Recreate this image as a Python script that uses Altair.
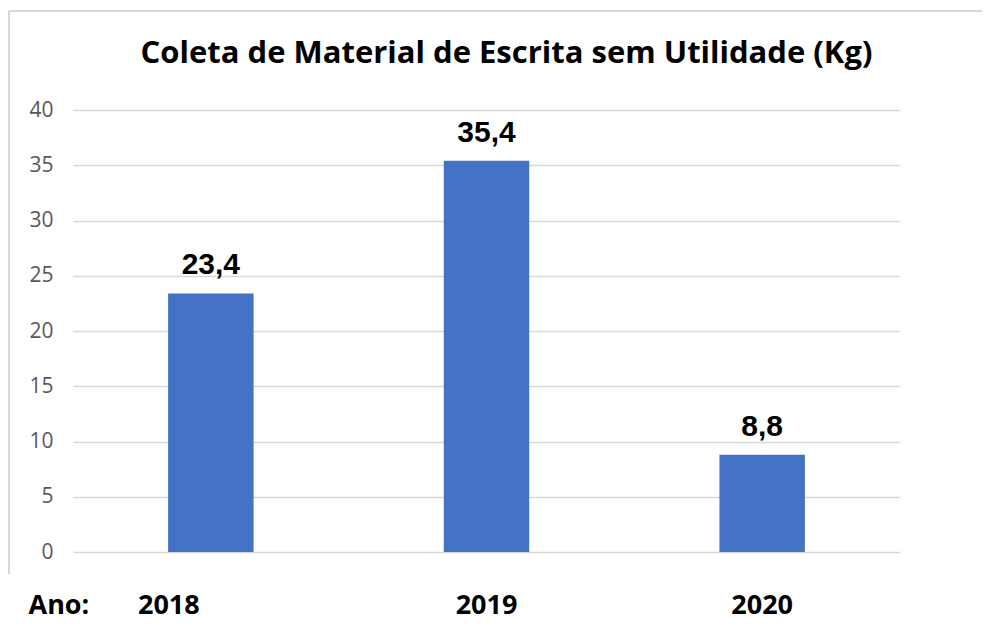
import altair as alt
import pandas as pd

anos = ["2018", "2019", "2020"]
valores = [23.4, 35.4, 8.8]
titulo = "Coleta de Material de Escrita sem Utilidade (Kg)"

df = pd.DataFrame({"ano": anos, "valor": valores})

W, H = 827, 442

base = alt.Chart(df)

x_enc = alt.X(
    "ano:N",
    sort=anos,
    scale=alt.Scale(paddingInner=0.69, paddingOuter=0.345),
    axis=alt.Axis(
        title="Ano:",
        titleFont="Open Sans",
        titleFontSize=27,
        titleFontWeight="bold",
        titleColor="#000000",
        titleAngle=0,
        titleAlign="left",
        titleBaseline="alphabetic",
        titleX=-45,
        titleY=61,
        labelFont="Open Sans",
        labelFontSize=27,
        labelFontWeight="bold",
        labelColor="#000000",
        labelAngle=0,
        labelBaseline="alphabetic",
        labelPadding=61,
        labelOffset=alt.ExprRef("datum.value == '2018' ? -42 : 0"),
        ticks=False,
        domain=False,
        grid=False,
    ),
)

bars = base.mark_bar(color="#4472C4").encode(
    x=x_enc,
    y=alt.Y(
        "valor:Q",
        scale=alt.Scale(domain=[0, 40], nice=False),
        axis=alt.Axis(
            title=None,
            values=[0, 5, 10, 15, 20, 25, 30, 35, 40],
            labelFont="Open Sans",
            labelFontSize=21,
            labelColor="#595959",
            labelPadding=20,
            ticks=False,
            domain=False,
            grid=True,
            gridColor="#d9d9d9",
            gridWidth=1.5,
        ),
    ),
)

labels = base.transform_calculate(
    rotulo="replace(format(datum.valor, '.1f'), '.', ',')"
).mark_text(
    font="Liberation Sans",
    fontSize=30,
    fontWeight="bold",
    color="#000000",
    baseline="alphabetic",
    dy=-19,
).encode(
    x=alt.X("ano:N", sort=anos),
    y=alt.Y("valor:Q"),
    text="rotulo:N",
)

border_top = base.mark_rule(color="#d9d9d9", strokeWidth=2).encode(
    x=alt.value(-64), x2=alt.value(W + 82), y=alt.value(-99)
)
border_left = base.mark_rule(color="#d9d9d9", strokeWidth=2).encode(
    x=alt.value(-64), y=alt.value(-99), y2=alt.value(H + 22)
)

chart = (
    alt.layer(bars, labels, border_top, border_left)
    .properties(
        width=W,
        height=H,
        view=alt.ViewBackground(stroke="transparent", strokeWidth=0),
        autosize=alt.AutoSizeParams(type="none"),
        padding={"left": 65, "top": 102, "right": 82, "bottom": 76},
        title=alt.TitleParams(
            text=titulo,
            font="Open Sans",
            fontSize=31,
            fontWeight="bold",
            color="#000000",
            anchor="middle",
            dx=20,
            baseline="alphabetic",
            offset=-84,
        ),
    )
    .configure_view(strokeWidth=0, stroke="transparent")
    .configure(background="white")
)

chart.save("out.html", embed_options={"renderer": "svg", "actions": False})
